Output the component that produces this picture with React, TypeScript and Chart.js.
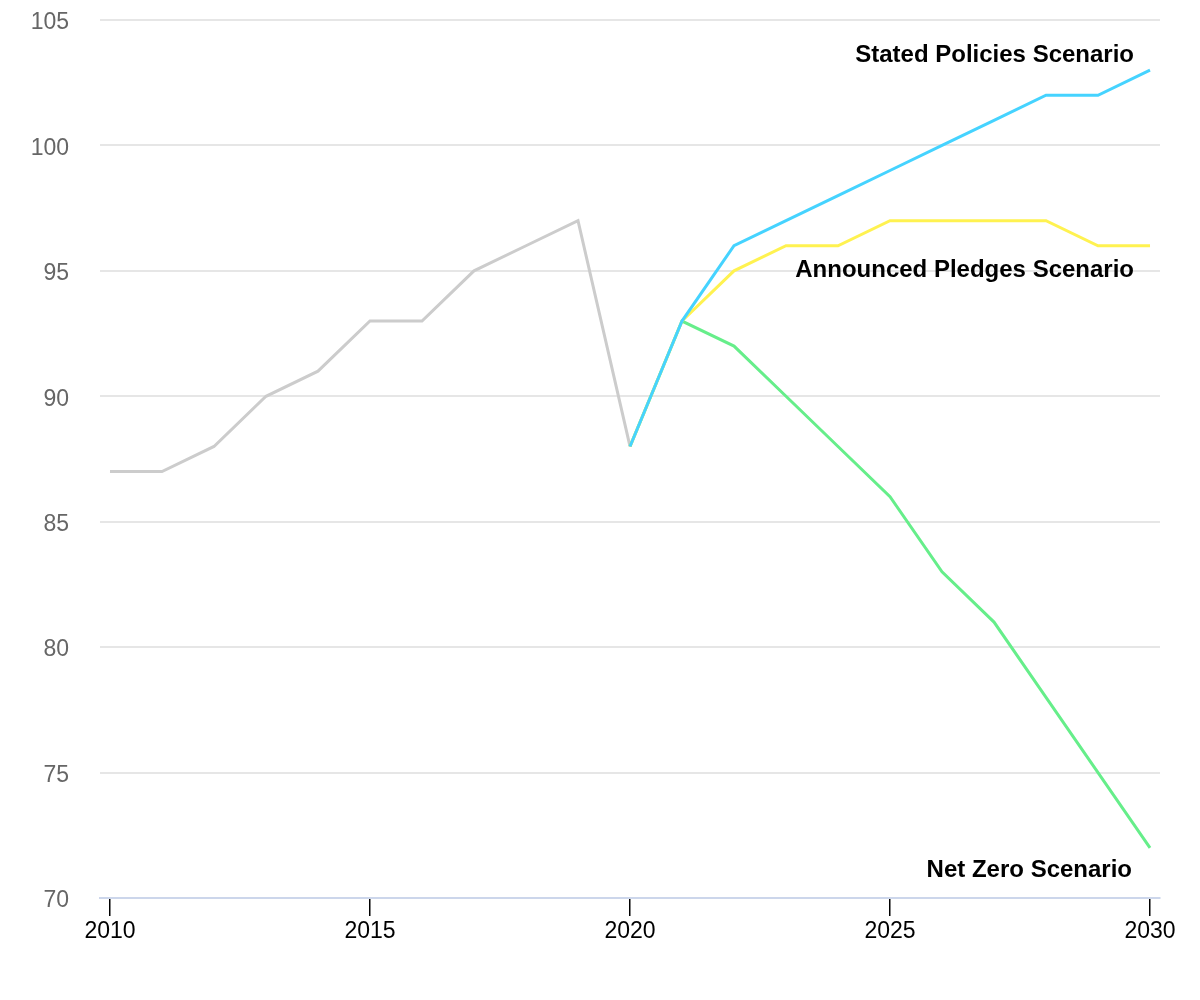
import React, { useEffect, useRef } from "react";
import { Chart, registerables } from "chart.js";

Chart.register(...registerables);

const historyYears = [2010, 2011, 2012, 2013, 2014, 2015, 2016, 2017, 2018, 2019, 2020];
const historyValues = [87, 87, 88, 90, 91, 93, 93, 95, 96, 97, 88];

const scenarioYears = [2020, 2021, 2022, 2023, 2024, 2025, 2026, 2027, 2028, 2029, 2030];
const statedValues = [88, 93, 96, 97, 98, 99, 100, 101, 102, 102, 103];
const pledgesValues = [88, 93, 95, 96, 96, 97, 97, 97, 97, 96, 96];
const netZeroValues = [88, 93, 92, 90, 88, 86, 83, 81, 78, 75, 72];

const xTicks = [2010, 2015, 2020, 2025, 2030];
const yTicks = [70, 75, 80, 85, 90, 95, 100, 105];

const labelStated = "Stated Policies Scenario";
const labelPledges = "Announced Pledges Scenario";
const labelNetZero = "Net Zero Scenario";

const toPoints = (xs: number[], ys: number[]) => xs.map((x, i) => ({ x, y: ys[i] }));

const endLabels = {
  id: "endLabels",
  afterDatasetsDraw(chart: any) {
    const { ctx, scales } = chart;
    const xs = scales.x;
    const ys = scales.y;
    const items = [
      { text: labelStated, val: statedValues[statedValues.length - 1], dy: -8, dx: -16 },
      { text: labelPledges, val: pledgesValues[pledgesValues.length - 1], dy: 31, dx: -16 },
      { text: labelNetZero, val: netZeroValues[netZeroValues.length - 1], dy: 29, dx: -18 },
    ];
    const xEnd = xs.getPixelForValue(scenarioYears[scenarioYears.length - 1]);
    ctx.save();
    ctx.font = "bold 24px 'Liberation Sans', Arial, sans-serif";
    ctx.fillStyle = "#000000";
    ctx.textAlign = "right";
    ctx.textBaseline = "alphabetic";
    items.forEach((it) => {
      ctx.fillText(it.text, xEnd + it.dx, ys.getPixelForValue(it.val) + it.dy);
    });
    ctx.restore();
  },
};

export default function App() {
  const ref = useRef<HTMLCanvasElement | null>(null);
  useEffect(() => {
    if (!ref.current) return;
    const chart = new Chart(ref.current, {
      type: "line",
      data: {
        datasets: [
          {
            label: labelStated,
            data: toPoints(scenarioYears, statedValues),
            borderColor: "#45d3ff",
            borderWidth: 3,
            pointRadius: 0,
            tension: 0,
          },
          {
            label: labelPledges,
            data: toPoints(scenarioYears, pledgesValues),
            borderColor: "#fff250",
            borderWidth: 3,
            pointRadius: 0,
            tension: 0,
          },
          {
            label: labelNetZero,
            data: toPoints(scenarioYears, netZeroValues),
            borderColor: "#66ee8a",
            borderWidth: 3,
            pointRadius: 0,
            tension: 0,
          },
          {
            label: "History",
            data: toPoints(historyYears, historyValues),
            borderColor: "#cccccc",
            borderWidth: 3,
            pointRadius: 0,
            tension: 0,
          },
        ],
      },
      options: {
        animation: false,
        responsive: false,
        maintainAspectRatio: false,
        layout: { padding: { top: 12, right: 32, left: 0, bottom: 0 } },
        plugins: {
          legend: { display: false },
          tooltip: { enabled: false },
        },
        scales: {
          x: {
            type: "linear",
            min: 2009.808,
            max: 2030.192,
            afterBuildTicks: (scale: any) => {
              scale.ticks = xTicks.map((v) => ({ value: v }));
            },
            afterFit: (scale: any) => {
              scale.height = 90;
            },
            grid: {
              display: true,
              drawOnChartArea: false,
              drawTicks: true,
              tickLength: 18,
              color: "#000000",
              lineWidth: 1.5,
            },
            border: { display: true, color: "#ccd6eb", width: 2 },
            ticks: {
              color: "#000000",
              font: { size: 23, family: "'Liberation Sans', Arial, sans-serif" },
              padding: 2,
              maxRotation: 0,
              autoSkip: false,
              callback: (v: any) => String(v),
            },
          },
          y: {
            min: 70,
            max: 105,
            afterBuildTicks: (scale: any) => {
              scale.ticks = yTicks.map((v) => ({ value: v }));
            },
            afterFit: (scale: any) => {
              scale.width = 92;
            },
            grid: {
              color: "#e6e6e6",
              lineWidth: 2,
              drawTicks: true,
              tickLength: 31,
              tickColor: "rgba(0,0,0,0)",
            },
            border: { display: false },
            ticks: {
              color: "#666666",
              font: { size: 23, family: "'Liberation Sans', Arial, sans-serif", lineHeight: 1 },
              padding: 0,
              labelOffset: 3,
              callback: (v: any) => String(v),
            },
          },
        },
      },
      plugins: [endLabels],
    });
    return () => chart.destroy();
  }, []);
  return (
    <div style={{ width: 1184, height: 980 }}>
      <canvas ref={ref} width={1184} height={980} style={{ display: "block" }} />
    </div>
  );
}
